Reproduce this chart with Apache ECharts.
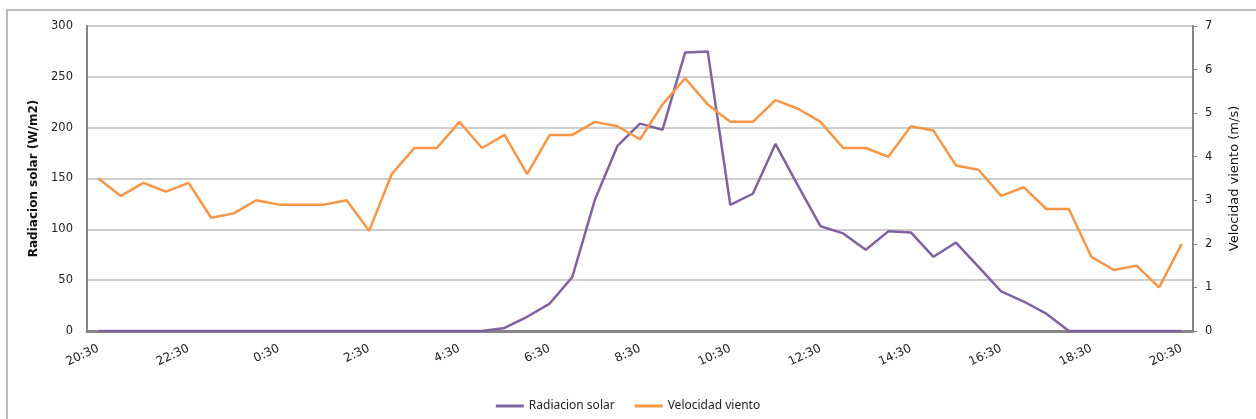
<!DOCTYPE html>
<html>
<head>
<meta charset="utf-8">
<script src="https://cdn.jsdelivr.net/npm/echarts@6/dist/echarts.min.js"></script>
<style>
  html, body { margin: 0; padding: 0; background: #fff; }
  #chart { width: 1256px; height: 419px; }
</style>
</head>
<body>
<div id="chart"></div>
<script>
// Half-hourly readings over one day, 20:30 to 20:30
const horas = [
  '20:30','21:00','21:30','22:00','22:30','23:00','23:30','0:00','0:30','1:00',
  '1:30','2:00','2:30','3:00','3:30','4:00','4:30','5:00','5:30','6:00',
  '6:30','7:00','7:30','8:00','8:30','9:00','9:30','10:00','10:30','11:00',
  '11:30','12:00','12:30','13:00','13:30','14:00','14:30','15:00','15:30','16:00',
  '16:30','17:00','17:30','18:00','18:30','19:00','19:30','20:00','20:30'
];

// Radiacion solar (W/m2)
const radiacion = [
  0, 0, 0, 0, 0, 0, 0, 0, 0, 0,
  0, 0, 0, 0, 0, 0, 0, 0, 3, 14,
  27, 53, 129, 182, 204, 198, 274, 275, 124, 135,
  184, 143, 103, 96, 80, 98, 97, 73, 87, 63,
  39, 29, 17, 0, 0, 0, 0, 0, 0
];

// Velocidad viento (m/s)
const viento = [
  3.5, 3.1, 3.4, 3.2, 3.4, 2.6, 2.7, 3.0, 2.9, 2.9,
  2.9, 3.0, 2.3, 3.6, 4.2, 4.2, 4.8, 4.2, 4.5, 3.6,
  4.5, 4.5, 4.8, 4.7, 4.4, 5.2, 5.8, 5.2, 4.8, 4.8,
  5.3, 5.1, 4.8, 4.2, 4.2, 4.0, 4.7, 4.6, 3.8, 3.7,
  3.1, 3.3, 2.8, 2.8, 1.7, 1.4, 1.5, 1.0, 2.0
];

const FONT = 'DejaVu Sans';
const chart = echarts.init(document.getElementById('chart'), null, { renderer: 'canvas' });

chart.setOption({
  animation: false,
  backgroundColor: '#ffffff',
  graphic: [{
    type: 'rect',
    shape: { x: 7, y: 10, width: 1300, height: 460 },
    style: { fill: 'none', stroke: '#a6a6a6', lineWidth: 1.5 },
    silent: true,
    z: -10
  }],
  grid: { left: 87, right: 63, top: 26, bottom: 88, containLabel: false },
  legend: {
    data: ['Radiacion solar', 'Velocidad viento'],
    top: 395,
    left: 'center',
    icon: 'rect',
    itemWidth: 28,
    itemHeight: 3,
    itemGap: 20,
    itemStyle: { borderWidth: 0 },
    textStyle: { fontFamily: 'Noto Sans', fontSize: 12, color: '#222' }
  },
  xAxis: {
    type: 'category',
    data: horas,
    boundaryGap: true,
    axisLine: { show: true, lineStyle: { color: '#868686', width: 3 } },
    axisTick: { show: false },
    axisLabel: {
      interval: 3,
      rotate: 25,
      margin: 17,
      fontFamily: FONT,
      fontSize: 12,
      color: '#222'
    },
    splitLine: { show: false }
  },
  yAxis: [{
    type: 'value',
    min: 0,
    max: 300,
    interval: 50,
    position: 'left',
    name: 'Radiacion solar (W/m2)',
    nameLocation: 'middle',
    nameGap: 46,
    nameTextStyle: { fontFamily: FONT, fontSize: 12, fontWeight: 'bold', color: '#111' },
    axisLine: { show: true, lineStyle: { color: '#868686', width: 2 } },
    axisTick: { show: false },
    axisLabel: { margin: 14, fontFamily: FONT, fontSize: 11.5, color: '#222' },
    splitLine: { show: true, lineStyle: { color: '#bdbdbd', width: 1.5 } }
  }, {
    type: 'value',
    min: 0,
    max: 7,
    interval: 1,
    position: 'right',
    name: 'Velocidad viento (m/s)',
    nameLocation: 'middle',
    nameGap: 35,
    nameRotate: 90,
    nameTextStyle: { fontFamily: FONT, fontSize: 13, color: '#111' },
    axisLine: { show: true, lineStyle: { color: '#868686', width: 2 } },
    axisTick: { show: true, inside: false, length: 4, lineStyle: { color: '#868686' } },
    axisLabel: { margin: 12, fontFamily: FONT, fontSize: 11.5, color: '#222' },
    splitLine: { show: false }
  }],
  series: [{
    name: 'Radiacion solar',
    type: 'line',
    yAxisIndex: 0,
    data: radiacion,
    symbol: 'none',
    lineStyle: { color: '#7f63a1', width: 2.5 },
    itemStyle: { color: '#7f63a1' },
    z: 3
  }, {
    name: 'Velocidad viento',
    type: 'line',
    yAxisIndex: 1,
    data: viento,
    symbol: 'none',
    lineStyle: { color: '#f79646', width: 2.5 },
    itemStyle: { color: '#f79646' },
    z: 4
  }]
});
</script>
</body>
</html>
